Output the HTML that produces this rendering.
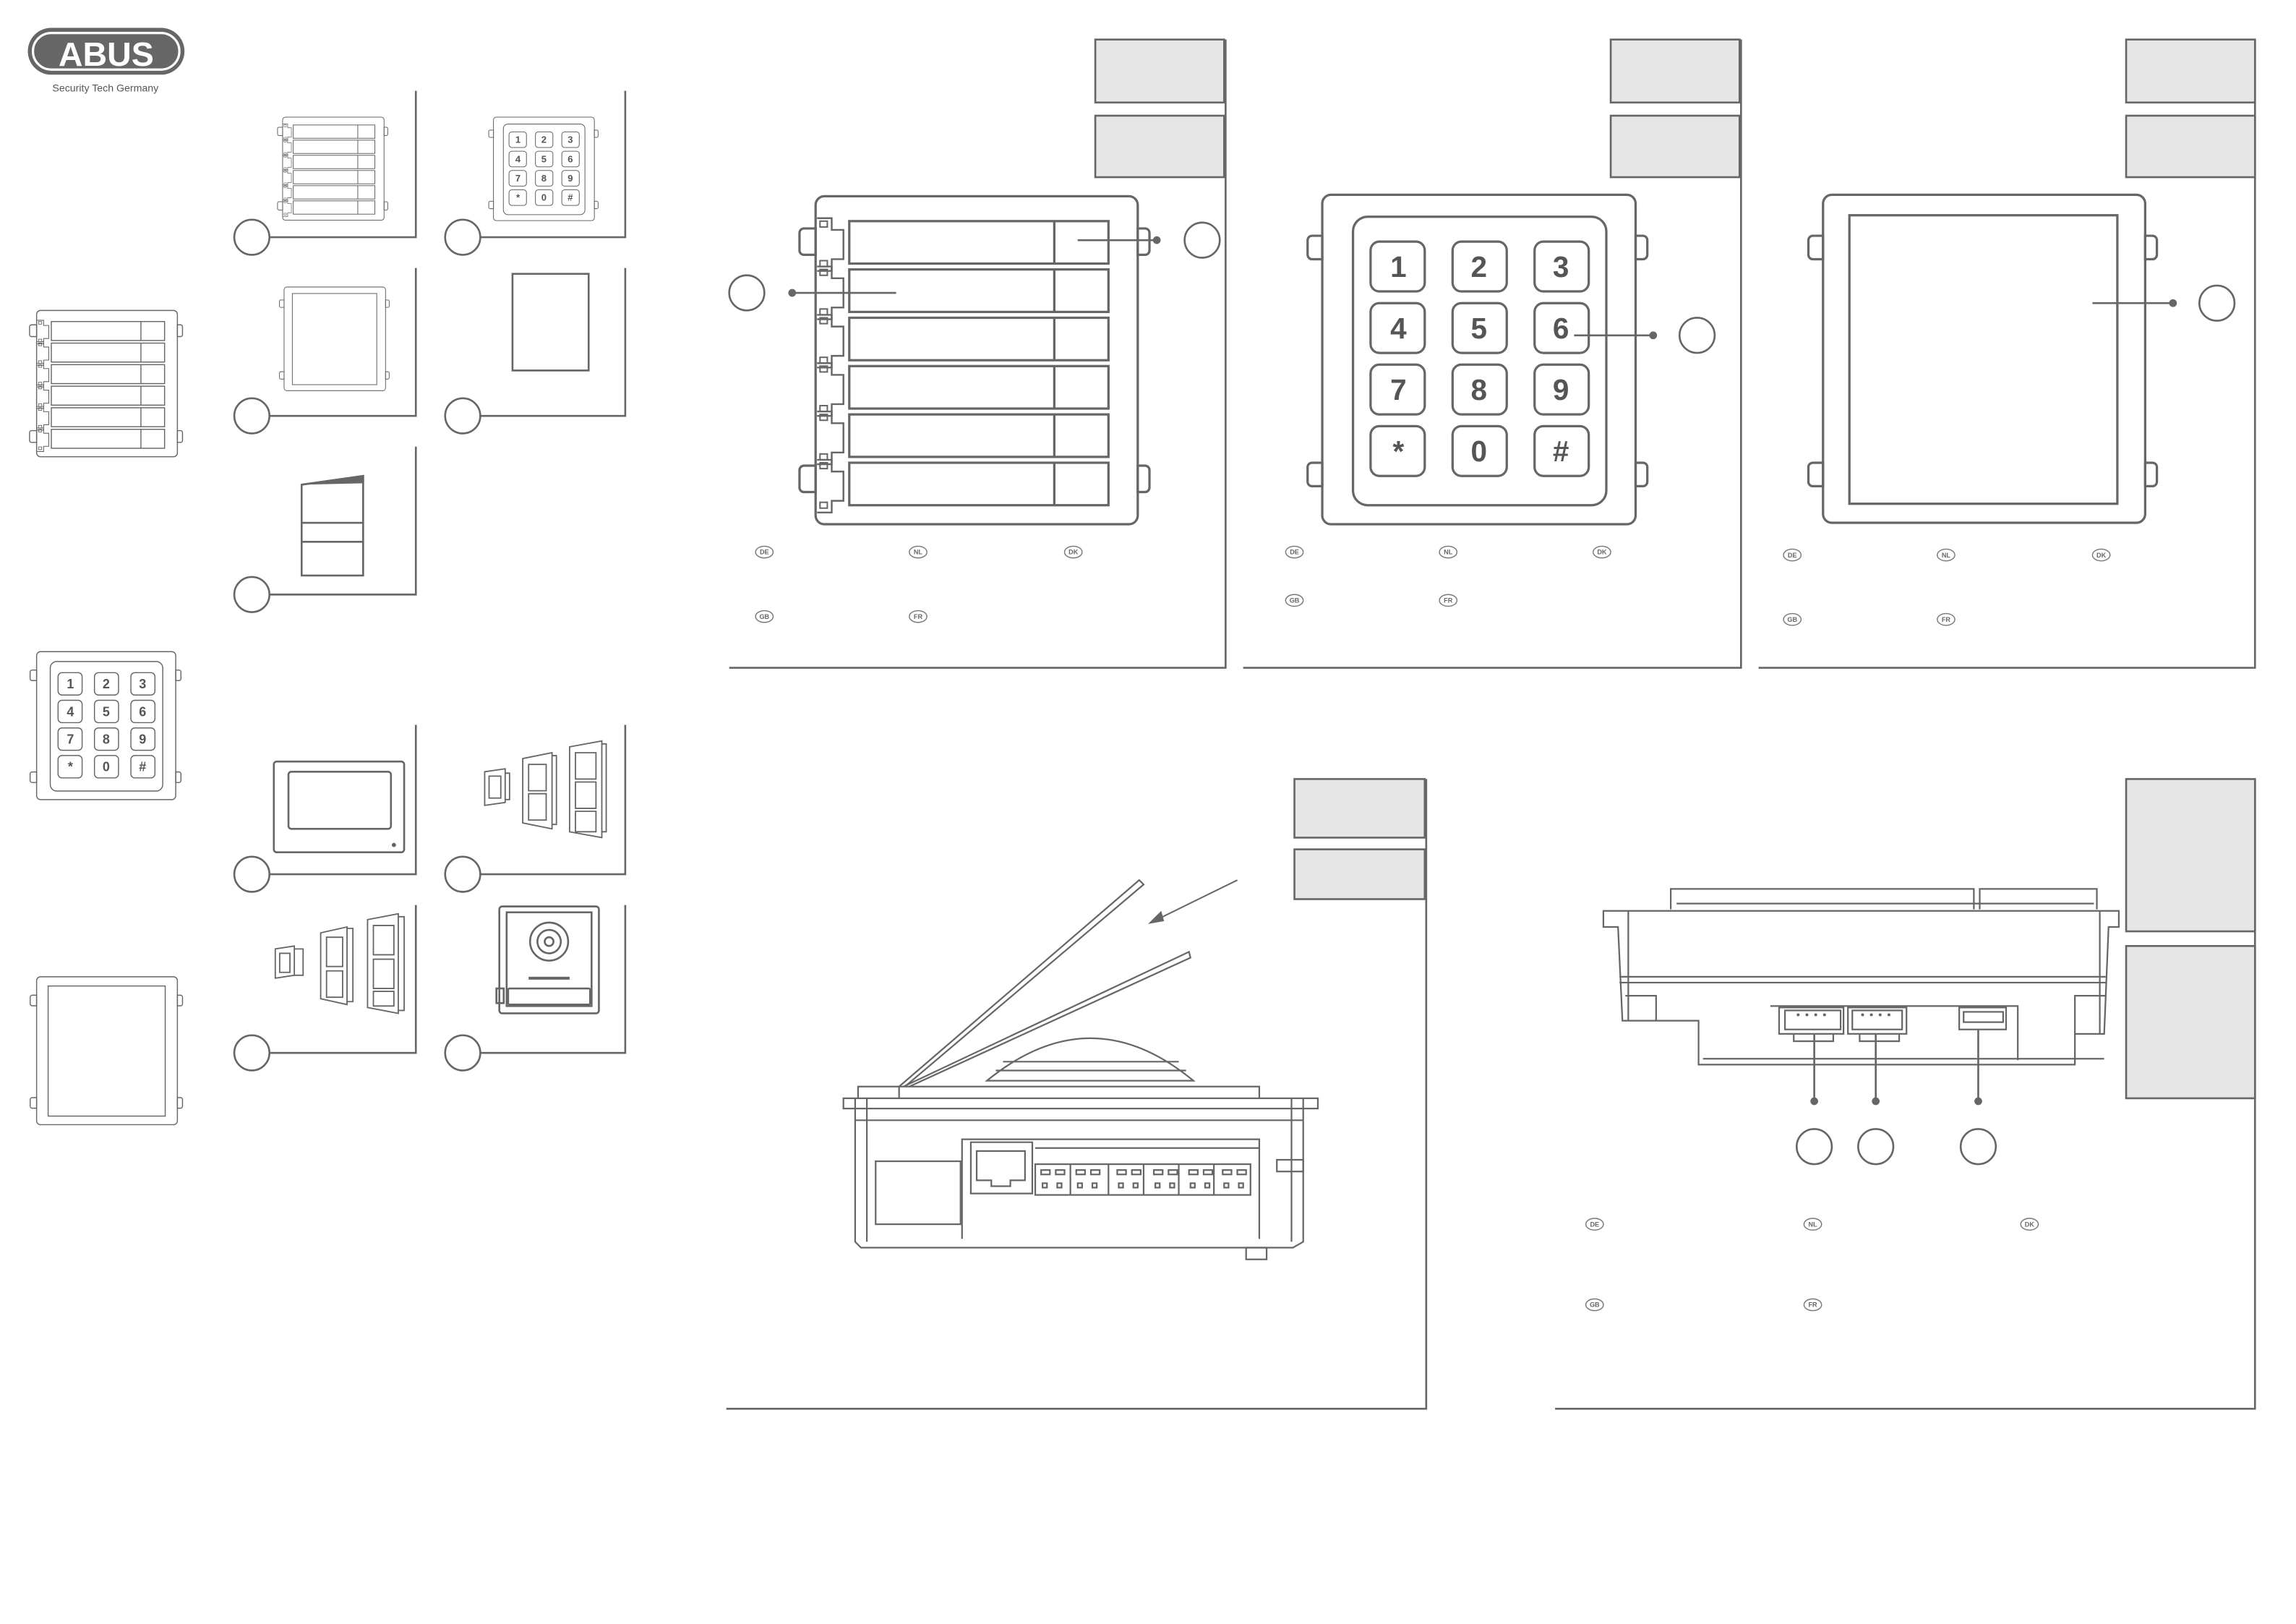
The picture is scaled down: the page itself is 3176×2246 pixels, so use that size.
<!DOCTYPE html>
<html><head><meta charset="utf-8"><style>
html,body{margin:0;padding:0;background:#fff;}
svg{display:block;}
text{font-family:"Liberation Sans",sans-serif;}
</style></head><body>
<svg width="3176" height="2246" viewBox="0 0 1568 1109" preserveAspectRatio="none" xmlns="http://www.w3.org/2000/svg">
<defs>
<g id="btn" fill="none" stroke="#666" stroke-width="1.6">
  <path d="M-8 22 h8 v18 h-8 a3 3 0 0 1 -3 -3 v-12 a3 3 0 0 1 3 -3z M-8 184 h8 v18 h-8 a3 3 0 0 1 -3 -3 v-12 a3 3 0 0 1 3 -3z M220 22 h5 a3 3 0 0 1 3 3 v12 a3 3 0 0 1 -3 3 h-5z M220 184 h5 a3 3 0 0 1 3 3 v12 a3 3 0 0 1 -3 3 h-5z"/>
  <rect x="0" y="0" width="220" height="224" rx="6"/>
  <g id="row"><rect x="23" y="17" width="177" height="29"/><line x1="163" y1="17" x2="163" y2="46"/>
  <path d="M1 15 h10 v8 h8 v20 h-8 v8 h-10" stroke-width="1.2"/><rect x="3" y="17" width="5" height="4" stroke-width="1"/><rect x="3" y="44" width="5" height="4" stroke-width="1"/></g>
  <use href="#row" y="33"/><use href="#row" y="66"/><use href="#row" y="99"/><use href="#row" y="132"/><use href="#row" y="165"/>
</g>
<g id="kp" fill="none" stroke="#666" stroke-width="1.6">
  <path d="M-7 28 h7 v16 h-7 a3 3 0 0 1 -3 -3 v-10 a3 3 0 0 1 3 -3z M-7 183 h7 v16 h-7 a3 3 0 0 1 -3 -3 v-10 a3 3 0 0 1 3 -3z M214 28 h5 a3 3 0 0 1 3 3 v10 a3 3 0 0 1 -3 3 h-5z M214 183 h5 a3 3 0 0 1 3 3 v10 a3 3 0 0 1 -3 3 h-5z"/>
  <rect x="0" y="0" width="214" height="225" rx="6"/>
  <rect x="21" y="15" width="173" height="197" rx="10"/>
  <g id="krow"><rect x="33" y="32" width="37" height="34" rx="6"/><rect x="89" y="32" width="37" height="34" rx="6"/><rect x="145" y="32" width="37" height="34" rx="6"/></g>
  <use href="#krow" y="42"/><use href="#krow" y="84"/><use href="#krow" y="126"/>
  <g fill="#555" stroke="none" font-size="20" font-weight="bold" text-anchor="middle">
   <text x="52" y="56" font-family="Liberation Sans">1</text><text x="107" y="56" font-family="Liberation Sans">2</text><text x="163" y="56" font-family="Liberation Sans">3</text>
   <text x="52" y="98" font-family="Liberation Sans">4</text><text x="107" y="98" font-family="Liberation Sans">5</text><text x="163" y="98" font-family="Liberation Sans">6</text>
   <text x="52" y="140" font-family="Liberation Sans">7</text><text x="107" y="140" font-family="Liberation Sans">8</text><text x="163" y="140" font-family="Liberation Sans">9</text>
   <text x="52" y="182" font-family="Liberation Sans">*</text><text x="107" y="182" font-family="Liberation Sans">0</text><text x="163" y="182" font-family="Liberation Sans">#</text>
  </g>
</g>
<g id="blank" fill="none" stroke="#666" stroke-width="1.6">
  <path d="M-7 28 h7 v16 h-7 a3 3 0 0 1 -3 -3 v-10 a3 3 0 0 1 3 -3z M-7 183 h7 v16 h-7 a3 3 0 0 1 -3 -3 v-10 a3 3 0 0 1 3 -3z M220 28 h5 a3 3 0 0 1 3 3 v10 a3 3 0 0 1 -3 3 h-5z M220 183 h5 a3 3 0 0 1 3 3 v10 a3 3 0 0 1 -3 3 h-5z"/>
  <rect x="0" y="0" width="220" height="224" rx="6"/>
  <rect x="18" y="14" width="183" height="197"/>
</g>
</defs>

<!-- logo -->
<rect x="19" y="19" width="107" height="32" rx="16" fill="#666"/>
<rect x="22.5" y="22.5" width="100" height="25" rx="12.5" fill="none" stroke="#fff" stroke-width="1.6"/>
<text x="72.5" y="45" font-size="23" font-weight="bold" fill="#fff" text-anchor="middle" font-family="Liberation Sans">ABUS</text>
<text x="72" y="62.5" font-size="7" fill="#555" text-anchor="middle" font-family="Liberation Sans">Security Tech Germany</text>

<g fill="none" stroke="#666" stroke-width="1.3">
<use href="#btn" transform="translate(25,212) scale(0.437,0.446)"/>
<use href="#kp" transform="translate(25,445) scale(0.444,0.449)"/>
<use href="#blank" transform="translate(25,667) scale(0.437,0.451)"/>

<circle cx="172" cy="162" r="12"/><path d="M184 162 H284 V62"/>
<circle cx="316" cy="162" r="12"/><path d="M328 162 H427 V62"/>
<circle cx="172" cy="284" r="12"/><path d="M184 284 H284 V183"/>
<circle cx="316" cy="284" r="12"/><path d="M328 284 H427 V183"/>
<circle cx="172" cy="406" r="12"/><path d="M184 406 H284 V305"/>
<circle cx="172" cy="597" r="12"/><path d="M184 597 H284 V495"/>
<circle cx="316" cy="597" r="12"/><path d="M328 597 H427 V495"/>
<circle cx="172" cy="719" r="12"/><path d="M184 719 H284 V618"/>
<circle cx="316" cy="719" r="12"/><path d="M328 719 H427 V618"/>

<use href="#btn" transform="translate(193,80) scale(0.315,0.314)"/>
<use href="#kp" transform="translate(337,80) scale(0.322,0.314)"/>
<use href="#blank" transform="translate(194,196) scale(0.315,0.316)"/>
<rect x="350" y="187" width="52" height="66"/>
<path d="M206 331 L248 325 V393 H206 Z M206 357 H248 M206 370 H248"/>
<path d="M206 331 L248 325 V330" fill="#666"/>
<rect x="187" y="520" width="89" height="62" rx="2"/>
<rect x="197" y="527" width="70" height="39" rx="2"/>
<circle cx="269" cy="577" r="0.8" fill="#666"/>
<g stroke-width="0.9">
<path d="M331 527 l14 -2 v23 l-14 2 z M334 530 h8 v15 h-8 z M345 528 h3 v18 h-3"/>
<path d="M357 518 l20 -4 v52 l-20 -4 z M361 522 h12 v18 h-12 z M361 542 h12 v18 h-12 z M377 516 h3 v47 h-3"/>
<path d="M389 510 l22 -4 v66 l-22 -4 z M393 514 h14 v18 h-14 z M393 534 h14 v18 h-14 z M393 554 h14 v14 h-14 z M411 508 h3 v60 h-3"/>
<path d="M188 648 l13 -2 v20 l-13 2 z M191 651 h7 v13 h-7 z M201 648 h6 v18 h-6"/>
<path d="M219 637 l18 -4 v53 l-18 -4 z M223 640 h11 v20 h-11 z M223 663 h11 v18 h-11 z M237 634 h4 v50 h-4"/>
<path d="M251 628 l21 -4 v68 l-21 -4 z M255 632 h14 v20 h-14 z M255 655 h14 v20 h-14 z M255 677 h14 v10 h-14 z M272 626 h4 v64 h-4"/>
</g>
<rect x="341" y="619" width="68" height="73" rx="2"/>
<rect x="346" y="623" width="58" height="64"/>
<circle cx="375" cy="643" r="13"/><circle cx="375" cy="643" r="8"/><circle cx="375" cy="643" r="3"/>
<line x1="361" y1="668" x2="389" y2="668" stroke-width="2"/>
<rect x="347" y="675" width="56" height="11" rx="1"/>
<rect x="339" y="675" width="5" height="10"/>

<path d="M498 456 H837 V27"/>
<rect x="748" y="27" width="88" height="43" fill="#e6e6e6"/>
<rect x="748" y="79" width="88" height="42" fill="#e6e6e6"/>
<use href="#btn" transform="translate(557,134)"/>
<circle cx="510" cy="200" r="12"/><line x1="541" y1="200" x2="612" y2="200"/><circle cx="541" cy="200" r="2" fill="#666"/>
<circle cx="821" cy="164" r="12"/><line x1="736" y1="164" x2="790" y2="164"/><circle cx="790" cy="164" r="2" fill="#666"/>

<path d="M849 456 H1189 V27"/>
<rect x="1100" y="27" width="88" height="43" fill="#e6e6e6"/>
<rect x="1100" y="79" width="88" height="42" fill="#e6e6e6"/>
<use href="#kp" transform="translate(903,133)"/>
<circle cx="1159" cy="229" r="12"/><line x1="1075" y1="229" x2="1129" y2="229"/><circle cx="1129" cy="229" r="2" fill="#666"/>

<path d="M1201 456 H1540 V27"/>
<rect x="1452" y="27" width="88" height="43" fill="#e6e6e6"/>
<rect x="1452" y="79" width="88" height="42" fill="#e6e6e6"/>
<use href="#blank" transform="translate(1245,133)"/>
<circle cx="1514" cy="207" r="12"/><line x1="1429" y1="207" x2="1484" y2="207"/><circle cx="1484" cy="207" r="2" fill="#666"/>

<path d="M496 962 H974 V532"/>
<rect x="884" y="532" width="89" height="40" fill="#e6e6e6"/>
<rect x="884" y="580" width="89" height="34" fill="#e6e6e6"/>
<g stroke-width="1.1">
<path d="M614 742 L778 601 L781 604 L618 742"/>
<path d="M617 742 L812 650 L813 654 L621 742"/>
<path d="M674 738 Q745 680 815 738 Z M685 725 H805 M680 731 H810"/>
<path d="M586 750 V742 H860 V750"/><line x1="614" y1="742" x2="614" y2="750"/>
<rect x="576" y="750" width="324" height="7"/>
<path d="M584 750 V848 L588 852 H883 L890 848 V750"/>
<line x1="584" y1="765" x2="890" y2="765"/>
<line x1="592" y1="750" x2="592" y2="848"/><line x1="882" y1="750" x2="882" y2="848"/>
<rect x="598" y="793" width="58" height="43"/>
<path d="M657 846 V778 H860 V846"/>
<line x1="707" y1="784" x2="860" y2="784"/>
<path d="M663 780 H705 V815 H663 Z M667 786 H700 V806 H690 V810 H677 V806 H667 Z"/>
<rect x="707" y="795" width="147" height="21"/>
<g id="term"><rect x="711" y="799" width="6" height="3"/><rect x="721" y="799" width="6" height="3"/><rect x="712" y="808" width="3" height="3"/><rect x="722" y="808" width="3" height="3"/></g>
<use href="#term" x="24"/><use href="#term" x="52"/><use href="#term" x="77"/><use href="#term" x="101"/><use href="#term" x="124"/>
<line x1="731" y1="795" x2="731" y2="816"/><line x1="757" y1="795" x2="757" y2="816"/><line x1="781" y1="795" x2="781" y2="816"/><line x1="805" y1="795" x2="805" y2="816"/><line x1="829" y1="795" x2="829" y2="816"/>
<rect x="872" y="792" width="18" height="8"/>
<rect x="851" y="852" width="14" height="8"/>
</g>
<line x1="845" y1="601" x2="790" y2="628" stroke-width="1"/>
<path d="M784 631 L793 622 L795 629 Z" fill="#666" stroke="none"/>

<path d="M1062 962 H1540 V532"/>
<rect x="1452" y="532" width="88" height="104" fill="#e6e6e6"/>
<rect x="1452" y="646" width="88" height="104" fill="#e6e6e6"/>
<g stroke-width="1.1">
<path d="M1141 621 V607 H1348 V621 M1352 621 V607 H1432 V621"/>
<line x1="1145" y1="617" x2="1430" y2="617"/>
<path d="M1095 622 H1447 V633 H1440 L1437 706 H1417 V727 H1160 V697 H1108 L1105 633 H1095 Z"/>
<line x1="1112" y1="622" x2="1112" y2="697"/><line x1="1434" y1="622" x2="1434" y2="706"/>
<line x1="1106" y1="667" x2="1438" y2="667"/><line x1="1106" y1="671" x2="1438" y2="671"/>
<path d="M1110 680 H1131 V697 M1438 680 H1417 V706"/>
<path d="M1209 687 H1378 V724"/>
<rect x="1215" y="688" width="44" height="18"/><rect x="1262" y="688" width="40" height="18"/>
<rect x="1219" y="690" width="38" height="13"/><rect x="1265" y="690" width="34" height="13"/>
<path d="M1225 706 V711 H1252 V706 M1270 706 V711 H1297 V706"/>
<rect x="1338" y="688" width="32" height="15"/><rect x="1341" y="691" width="27" height="7"/>
<line x1="1163" y1="723" x2="1437" y2="723"/>
</g>
<g fill="#666" stroke="none">
<circle cx="1228" cy="693" r="1"/><circle cx="1234" cy="693" r="1"/><circle cx="1240" cy="693" r="1"/><circle cx="1246" cy="693" r="1"/>
<circle cx="1272" cy="693" r="1"/><circle cx="1278" cy="693" r="1"/><circle cx="1284" cy="693" r="1"/><circle cx="1290" cy="693" r="1"/>
</g>
<line x1="1239" y1="706" x2="1239" y2="752"/><circle cx="1239" cy="752" r="2" fill="#666"/><circle cx="1239" cy="783" r="12"/>
<line x1="1281" y1="706" x2="1281" y2="752"/><circle cx="1281" cy="752" r="2" fill="#666"/><circle cx="1281" cy="783" r="12"/>
<line x1="1351" y1="703" x2="1351" y2="752"/><circle cx="1351" cy="752" r="2" fill="#666"/><circle cx="1351" cy="783" r="12"/>
</g>

<g fill="none" stroke="#777" stroke-width="0.7">
<ellipse cx="522" cy="377" rx="6" ry="4"/><ellipse cx="627" cy="377" rx="6" ry="4"/><ellipse cx="733" cy="377" rx="6" ry="4"/><ellipse cx="522" cy="421" rx="6" ry="4"/><ellipse cx="627" cy="421" rx="6" ry="4"/>
<ellipse cx="884" cy="377" rx="6" ry="4"/><ellipse cx="989" cy="377" rx="6" ry="4"/><ellipse cx="1094" cy="377" rx="6" ry="4"/><ellipse cx="884" cy="410" rx="6" ry="4"/><ellipse cx="989" cy="410" rx="6" ry="4"/>
<ellipse cx="1224" cy="379" rx="6" ry="4"/><ellipse cx="1329" cy="379" rx="6" ry="4"/><ellipse cx="1435" cy="379" rx="6" ry="4"/><ellipse cx="1224" cy="423" rx="6" ry="4"/><ellipse cx="1329" cy="423" rx="6" ry="4"/>
<ellipse cx="1089" cy="836" rx="6" ry="4"/><ellipse cx="1238" cy="836" rx="6" ry="4"/><ellipse cx="1386" cy="836" rx="6" ry="4"/><ellipse cx="1089" cy="891" rx="6" ry="4"/><ellipse cx="1238" cy="891" rx="6" ry="4"/>
</g>
<g fill="#666" font-size="4.5" font-weight="bold" text-anchor="middle" font-family="Liberation Sans">
<text x="522" y="378.6">DE</text><text x="627" y="378.6">NL</text><text x="733" y="378.6">DK</text><text x="522" y="422.6">GB</text><text x="627" y="422.6">FR</text>
<text x="884" y="378.6">DE</text><text x="989" y="378.6">NL</text><text x="1094" y="378.6">DK</text><text x="884" y="411.6">GB</text><text x="989" y="411.6">FR</text>
<text x="1224" y="380.6">DE</text><text x="1329" y="380.6">NL</text><text x="1435" y="380.6">DK</text><text x="1224" y="424.6">GB</text><text x="1329" y="424.6">FR</text>
<text x="1089" y="837.6">DE</text><text x="1238" y="837.6">NL</text><text x="1386" y="837.6">DK</text><text x="1089" y="892.6">GB</text><text x="1238" y="892.6">FR</text>
</g>
</svg>
</body></html>
